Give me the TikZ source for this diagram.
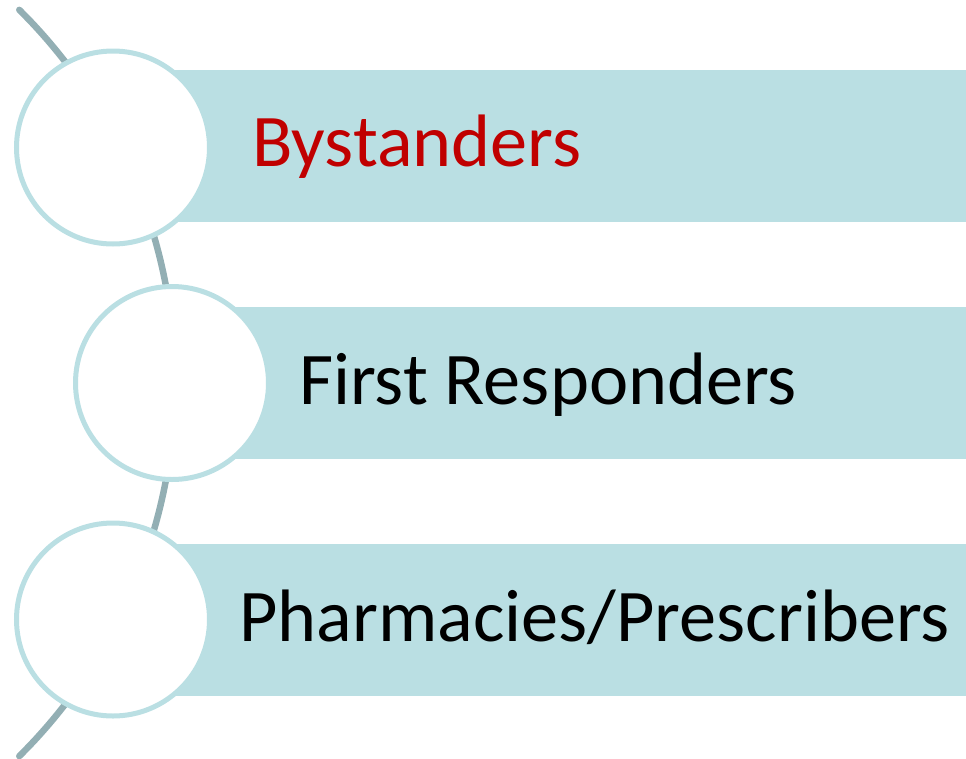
\documentclass[tikz,border=0pt]{standalone}
\usepackage{fontspec}
\setmainfont{Carlito}
\definecolor{bandc}{HTML}{BADFE3}
\definecolor{linec}{HTML}{93AFB4}
\definecolor{redc}{HTML}{C00000}
\begin{document}
\begin{tikzpicture}[x=1pt,y=-1pt,
  band/.style={fill=bandc, draw=none, inner sep=0pt, anchor=west, minimum width=853pt, minimum height=152pt},
  ring/.style={circle, fill=white, draw=bandc, line width=5pt, inner sep=0pt, minimum size=193pt},
  label/.style={anchor=base west, inner sep=0pt, font=\fontsize{74.3}{80}\selectfont}]
\useasboundingbox (0,0) rectangle (966,758);
% connecting arc
\coordinate (arctop) at ({-350+525*cos(-45.3)},{383+525*sin(-45.3)});
\coordinate (arcbot) at ({-350+525*cos(45.3)},{383+525*sin(45.3)});
\draw[linec, line width=6.5pt, line cap=round] plot[domain=-45.3:45.3, samples=80, smooth] ({-350+525*cos(\x)},{383+525*sin(\x)});
% bands
\node[band] (b1) at (113,145.5) {};
\node[band] (b2) at (172,383) {};
\node[band] (b3) at (113,620) {};
% circles
\node[ring] (c1) at (113,147.5) {};
\node[ring] (c2) at (172,383) {};
\node[ring] (c3) at (113,619.5) {};
% labels
\node[label, text=redc] (t1) at (252,166) {Bystanders};
\node[label] (t2) at (299,404) {First Responders};
\node[label] (t3) at (239,641) {Pharmacies/Prescribers};
\end{tikzpicture}
\end{document}
